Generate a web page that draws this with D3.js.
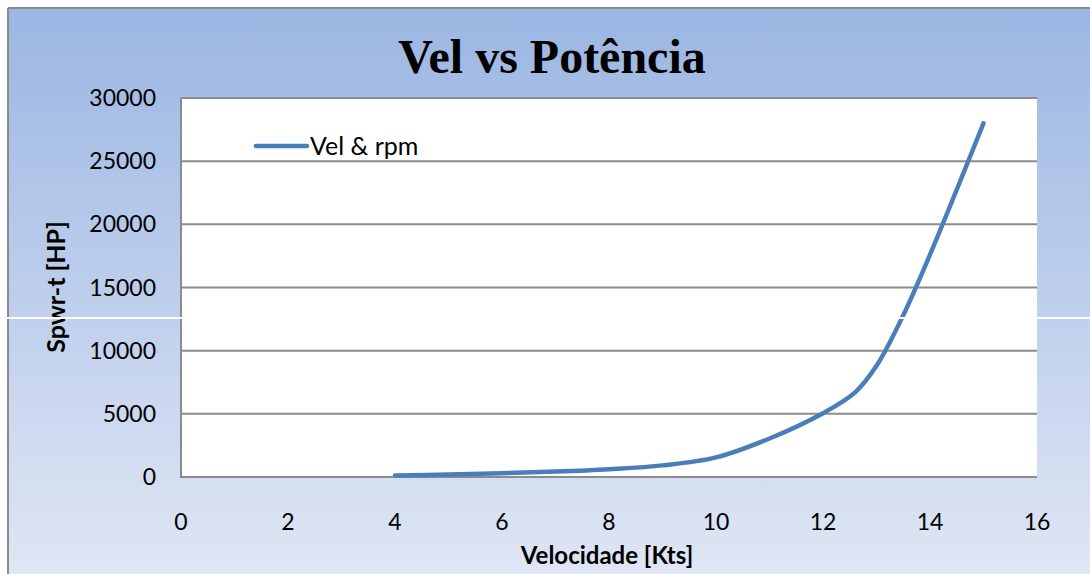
<!DOCTYPE html>
<html><head><meta charset="utf-8">
<script src="https://cdn.jsdelivr.net/npm/d3@7/dist/d3.min.js"></script>
<style>body{margin:0;padding:0;overflow:hidden;background:#fff}</style>
</head><body>
<svg id="c" width="1090" height="574"></svg>
<script>
const velocity = [4, 5, 6, 7, 8, 9, 10, 11, 12, 12.6, 13, 13.5, 14, 15];
const power = [120, 200, 300, 430, 620, 920, 1550, 3050, 5050, 6700, 8800, 12800, 17600, 28000];
const xTicks = [0, 2, 4, 6, 8, 10, 12, 14, 16];
const yTicks = [0, 5000, 10000, 15000, 20000, 25000, 30000];
const seriesName = "Vel & rpm";
const titleText = "Vel vs Potência";
const xTitle = "Velocidade [Kts]";
const yTitle = "Spwr-t [HP]";

const svg = d3.select("#c");
const defs = svg.append("defs");
const g = defs.append("linearGradient").attr("id","bg").attr("x1",0).attr("y1",0).attr("x2",0).attr("y2",1);
g.append("stop").attr("offset","0%").attr("stop-color","#9bb6e3");
g.append("stop").attr("offset","100%").attr("stop-color","#dfe6f4");

svg.append("rect").attr("x",9).attr("y",9).attr("width",1081).attr("height",565).attr("fill","url(#bg)");
svg.append("line").attr("x1",8).attr("x2",1090).attr("y1",8).attr("y2",8).attr("stroke","#8a8a8a").attr("stroke-width",2);
svg.append("line").attr("x1",8).attr("x2",8).attr("y1",8).attr("y2",574).attr("stroke","#8a8a8a").attr("stroke-width",2);

const L = 181, R = 1037, T = 98, B = 477;
const x = d3.scaleLinear().domain([0,16]).range([L,R]);
const y = d3.scaleLinear().domain([0,30000]).range([B,T]);

svg.append("rect").attr("x",L).attr("y",T).attr("width",R-L).attr("height",B-T).attr("fill","#fff");

svg.append("g").selectAll("line").data(yTicks.filter(d=>d>0)).join("line")
  .attr("x1",L).attr("x2",R).attr("y1",d=>y(d)).attr("y2",d=>y(d))
  .attr("stroke","#8c8c8c").attr("stroke-width",2);

svg.append("line").attr("x1",L).attr("x2",L).attr("y1",T-1).attr("y2",B+1).attr("stroke","#8c8c8c").attr("stroke-width",2);
svg.append("line").attr("x1",L-1).attr("x2",R).attr("y1",B).attr("y2",B).attr("stroke","#8c8c8c").attr("stroke-width",2);

const font = "Lato, 'Open Sans', sans-serif";
svg.append("g").selectAll("text").data(yTicks).join("text")
  .attr("x",156).attr("y",d=>y(d)+8).attr("text-anchor","end")
  .attr("font-family",font).attr("font-size",23).attr("fill","#000").text(d=>d);
svg.append("g").selectAll("text").data(xTicks).join("text")
  .attr("x",d=>x(d)).attr("y",530).attr("text-anchor","middle")
  .attr("font-family",font).attr("font-size",23).attr("fill","#000").text(d=>d);

const line = d3.line().x((d,i)=>x(velocity[i])).y(d=>y(d)).curve(d3.curveCatmullRom.alpha(0.5));
svg.append("path").datum(power).attr("d",line).attr("fill","none")
  .attr("stroke","#4a7ebb").attr("stroke-width",4.5).attr("stroke-linecap","round");

svg.append("line").attr("x1",256).attr("x2",307).attr("y1",146).attr("y2",146)
  .attr("stroke","#4a7ebb").attr("stroke-width",4.5).attr("stroke-linecap","round");
svg.append("text").attr("x",310).attr("y",155).attr("font-family",font).attr("font-size",25).text(seriesName);

svg.append("text").attr("x",552).attr("y",73).attr("text-anchor","middle")
  .attr("font-family","'Liberation Serif', 'Times New Roman', serif").attr("font-weight","bold")
  .attr("font-size",48).text(titleText);
svg.append("text").attr("x",607).attr("y",564).attr("text-anchor","middle")
  .attr("font-family",font).attr("font-weight","bold").attr("font-size",24).text(xTitle);
svg.append("text").attr("transform","translate(65,287) rotate(-90)").attr("text-anchor","middle")
  .attr("font-family",font).attr("font-weight","bold").attr("font-size",25).text(yTitle);

svg.append("line").attr("x1",5).attr("x2",1090).attr("y1",318).attr("y2",318).attr("stroke","#fff").attr("stroke-width",2);
</script>
</body></html>
